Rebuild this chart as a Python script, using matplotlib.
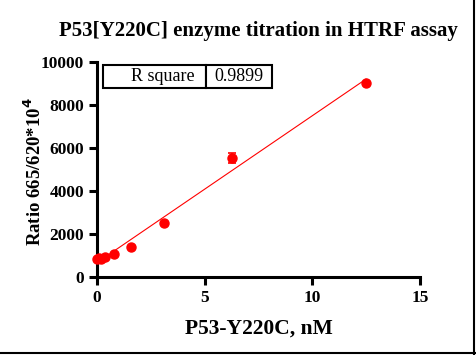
import numpy as np
import matplotlib.pyplot as plt
from matplotlib.lines import Line2D

# enzyme concentration (nM) and HTRF ratio
conc = [0, 0.098, 0.195, 0.39, 0.78, 1.5625, 3.125, 6.25, 12.5]
ratio = [840, 860, 840, 930, 1070, 1400, 2520, 5540, 9030]
err = [0, 0, 0, 0, 0, 0, 0, 250, 0]
r_square = "0.9899"

plt.rcParams["font.family"] = ["Liberation Serif", "DejaVu Serif"]

fig = plt.figure(figsize=(4.76, 3.55), dpi=100)
ax = fig.add_axes([0.204, 0.22, 0.678, 0.605])

# linear fit over the data range
slope, icpt = np.polyfit(conc, ratio, 1)
xf = np.array([min(conc), max(conc)])
ax.plot(xf, slope * xf + icpt, color="red", lw=0.8, zorder=2)

ax.errorbar(conc, ratio, yerr=err, fmt="o", color="red", ms=6.5,
            ecolor="red", elinewidth=1.2, capsize=3, capthick=1.2,
            clip_on=False, zorder=3)

ax.set_xlim(0, 15)
ax.set_ylim(0, 10000)
ax.set_xticks([0, 5, 10, 15])
ax.set_yticks([0, 2000, 4000, 6000, 8000, 10000])
for s in ["top", "right"]:
    ax.spines[s].set_visible(False)
for s in ["left", "bottom"]:
    ax.spines[s].set_linewidth(2.2)
ax.tick_params(width=2.2, length=6, labelsize=12.5, direction="out")
for lab in ax.get_xticklabels() + ax.get_yticklabels():
    lab.set_fontweight("bold")

ax.set_xlabel("P53-Y220C, nM", fontsize=15.5, fontweight="bold", labelpad=9)
ax.set_ylabel(r"Ratio 665/620*10$^{\mathbf{4}}$", fontsize=13.5, fontweight="bold")
ax.yaxis.set_label_coords(-0.16, 0.49)
ax.set_title("P53[Y220C] enzyme titration in HTRF assay", fontsize=15,
             fontweight="bold", pad=19)

# R square table
tbl = ax.table(cellText=[["R square", r_square]], cellLoc="center",
               colWidths=[0.61, 0.39], bbox=[0.019, 0.879, 0.523, 0.107])
tbl.auto_set_font_size(False)
tbl.set_fontsize(13)
for (r, c), cell in tbl.get_celld().items():
    cell.set_linewidth(1.5)
    if c == 0:
        cell.get_text().set_ha("right")
        cell.PAD = 0.11

# image frame on right and bottom
fig.add_artist(Line2D([0.996, 0.996], [0, 1], color="black", lw=1.5))
fig.add_artist(Line2D([0, 1], [0.005, 0.005], color="black", lw=1.5))

fig.savefig("out.png", dpi=100)
